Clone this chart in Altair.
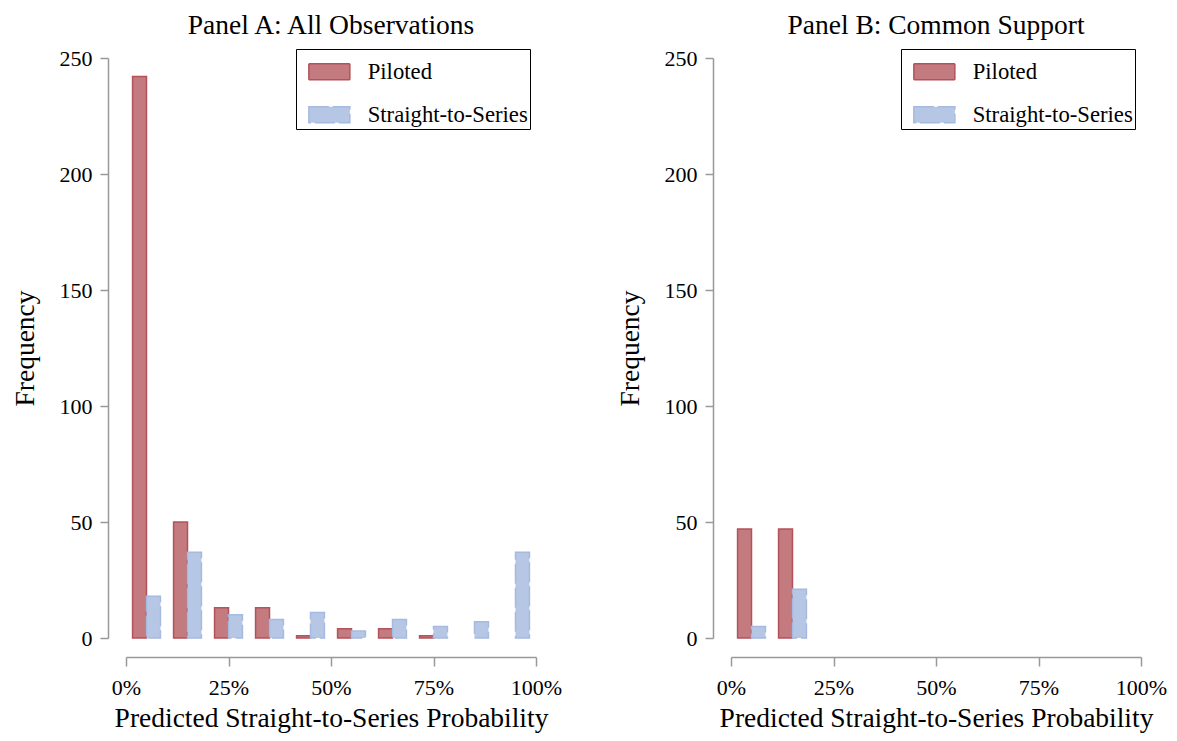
import altair as alt
import pandas as pd

bin_starts = [0, 10, 20, 30, 40, 50, 60, 70, 80, 90]
series_names = ["Piloted", "Straight-to-Series"]
a_piloted = [242, 50, 13, 13, 1, 4, 4, 1, 0, 0]
a_sts = [18, 37, 10, 8, 11, 3, 8, 5, 7, 37]
b_piloted = [47, 47, 0, 0, 0, 0, 0, 0, 0, 0]
b_sts = [5, 21, 0, 0, 0, 0, 0, 0, 0, 0]
x_ticks = [0, 25, 50, 75, 100]
y_ticks = [0, 50, 100, 150, 200, 250]

FONT = "Liberation Serif"
fill_colors = ["#c37b7f", "#b6c7e6"]
stroke_colors = ["#b3525a", "#a6b9df"]
dashes = [[1, 0], [20, 4]]
RECT = "M-4.1,-1.6H4.1V1.6H-4.1Z"


def make_df(piloted, sts):
    rows = []
    for b, p, s in zip(bin_starts, piloted, sts):
        rows.append({"bin": b, "series": series_names[0], "count": p})
        rows.append({"bin": b, "series": series_names[1], "count": s})
    df = pd.DataFrame(rows)
    return df[df["count"] > 0]


def legend():
    return alt.Legend(
        title=" ", titleFontSize=1, titlePadding=8.5,
        orient="none", legendX=170, legendY=-9,
        symbolType=RECT, symbolSize=100, symbolStrokeWidth=1.5, symbolOffset=20,
        labelFont=FONT, labelFontSize=22.7, labelColor="black", labelLimit=400,
        labelOffset=27, padding=2, rowPadding=19,
        strokeColor="black", fillColor="white",
    )


def panel(df, title):
    return alt.Chart(df).transform_calculate(
        x0="datum.bin + (datum.series == 'Piloted' ? 1.6 : 5)",
        x1="datum.bin + (datum.series == 'Piloted' ? 5 : 8.4)",
    ).mark_bar(strokeWidth=1.5).encode(
        x=alt.X("x0:Q", scale=alt.Scale(domain=[0, 100], nice=False, zero=False),
                axis=alt.Axis(values=x_ticks, labelExpr="datum.value + '%'",
                              title="Predicted Straight-to-Series Probability",
                              offset=19, tickSize=9, labelPadding=11.7, titlePadding=6,
                              labelFlush=False, labelOverlap=False)),
        x2="x1:Q",
        y=alt.Y("count:Q", scale=alt.Scale(domain=[0, 250], nice=False),
                axis=alt.Axis(values=y_ticks, title="Frequency", offset=18,
                              tickSize=8, labelPadding=8, titlePadding=20,
                              labelFlush=False, labelOverlap=False)),
        y2=alt.datum(0),
        fill=alt.Fill("series:N", scale=alt.Scale(domain=series_names, range=fill_colors), legend=legend()),
        stroke=alt.Stroke("series:N", scale=alt.Scale(domain=series_names, range=stroke_colors), legend=legend()),
        strokeDash=alt.StrokeDash("series:N", scale=alt.Scale(domain=series_names, range=dashes), legend=legend()),
    ).properties(
        width=410, height=580,
        title=alt.Title(title, frame="group", anchor="middle", font=FONT, fontSize=27.5,
                        fontWeight="normal", color="black", offset=7.6),
    )


chart = alt.hconcat(
    panel(make_df(a_piloted, a_sts), "Panel A: All Observations"),
    panel(make_df(b_piloted, b_sts), "Panel B: Common Support"),
    spacing=54,
).resolve_scale(
    fill="independent", stroke="independent", strokeDash="independent"
).resolve_legend(
    fill="independent", stroke="independent", strokeDash="independent"
).properties(
    padding={"left": 3, "top": 3, "right": 0, "bottom": 0}
).configure_axis(
    grid=False, domainColor="#999999", tickColor="#999999", domainWidth=1.5, tickWidth=1.5,
    labelFont=FONT, labelFontSize=22, labelColor="black",
    titleFont=FONT, titleFontSize=27.5, titleFontWeight="normal", titleColor="black",
).configure_view(strokeWidth=0)

chart.save("out.html", embed_options={"renderer": "svg", "actions": False})
